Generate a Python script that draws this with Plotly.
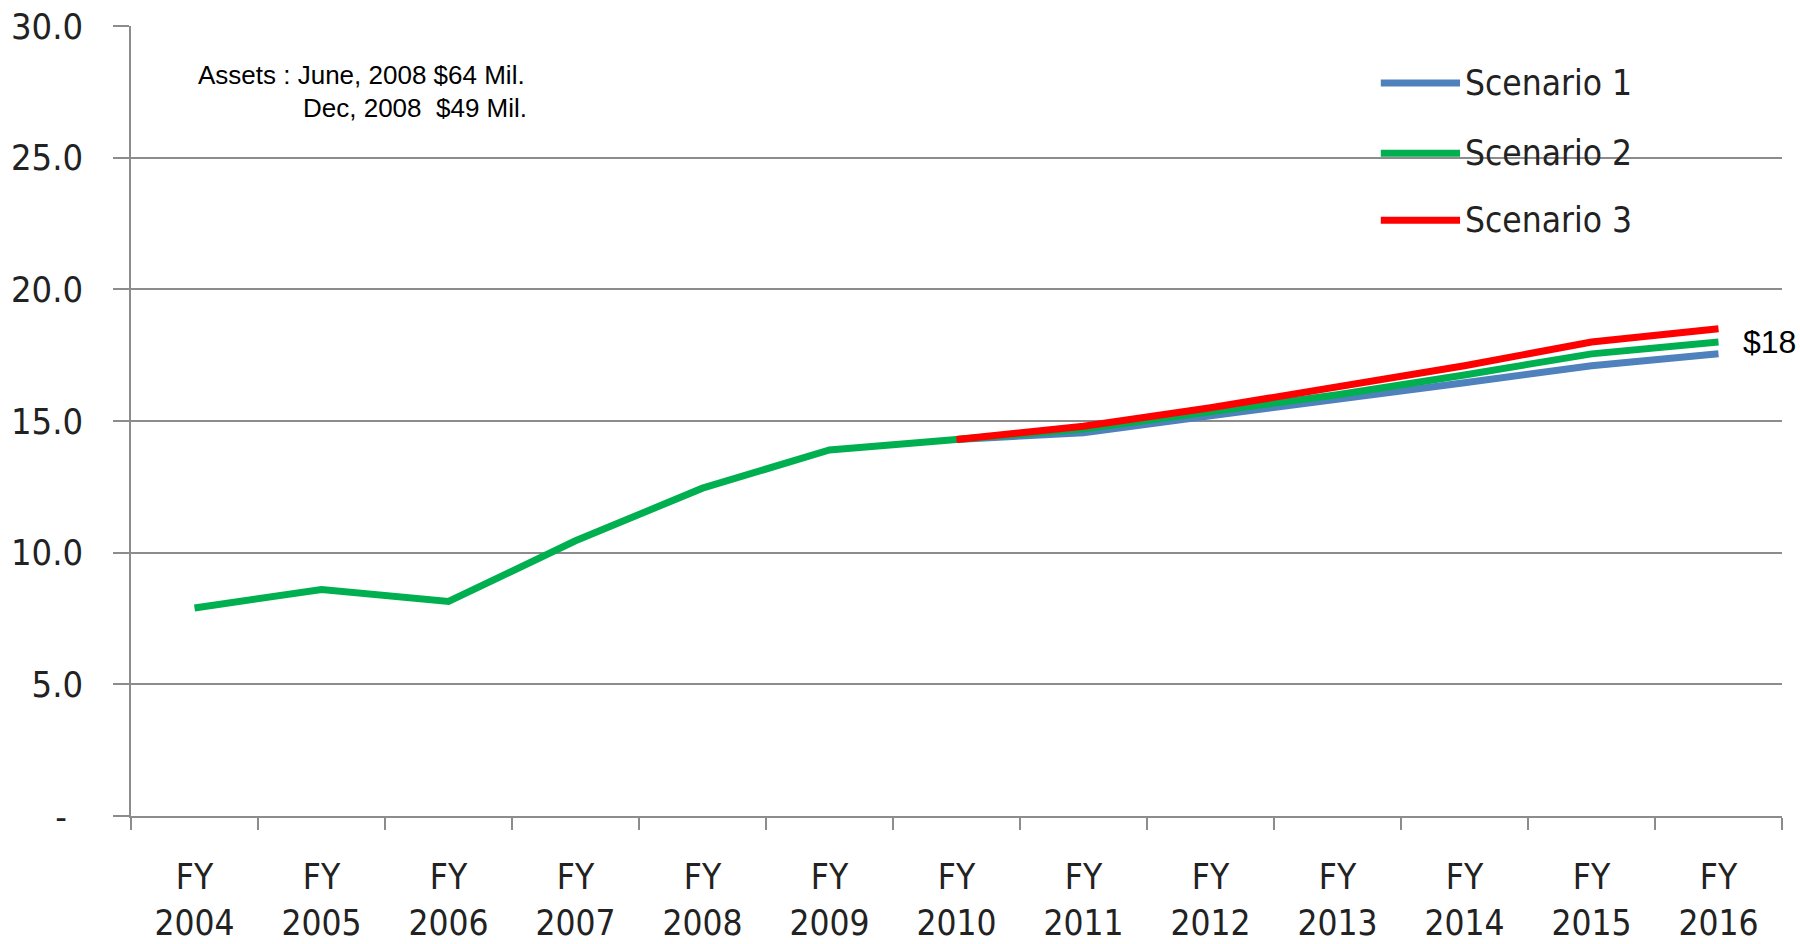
import plotly.graph_objects as go

# Fiscal years on the category axis
years = ["FY<br>2004", "FY<br>2005", "FY<br>2006", "FY<br>2007", "FY<br>2008",
         "FY<br>2009", "FY<br>2010", "FY<br>2011", "FY<br>2012", "FY<br>2013",
         "FY<br>2014", "FY<br>2015", "FY<br>2016"]

# Historical values (FY2004-FY2010), shared by all scenarios
history = [7.9, 8.6, 8.15, 10.45, 12.45, 13.9, 14.3]

# Projections FY2011-FY2016 per scenario
scenario_1 = [14.55, 15.2, 15.8, 16.45, 17.1, 17.55]
scenario_2 = [14.7, 15.35, 16.0, 16.75, 17.55, 18.0]
scenario_3 = [14.8, 15.5, 16.3, 17.1, 18.0, 18.5]

series_names = ["Scenario 1", "Scenario 2", "Scenario 3"]
series_colors = ["#4F81BD", "#00B050", "#FF0000"]

y_tickvals = [0, 5, 10, 15, 20, 25, 30]
y_ticktext = ["-\u2002", "5.0", "10.0", "15.0", "20.0", "25.0", "30.0"]

end_label = "$18"
note_lines = ["Assets : June, 2008 $64 Mil.", "Dec, 2008  $49 Mil."]

LABEL_FONT = "DejaVu Sans Condensed, Arial, sans-serif"
NOTE_FONT = "Liberation Sans, Arial, sans-serif"

fig = go.Figure()

# Scenario 1 and 3 start at FY2010; Scenario 2 carries the full history
traces = [
    (years[6:], [history[-1]] + scenario_1),
    (years, history + scenario_2),
    (years[6:], [history[-1]] + scenario_3),
]
for (xs, ys), name, color in zip(traces, series_names, series_colors):
    fig.add_trace(go.Scatter(
        x=xs, y=ys, mode="lines", name=name,
        line=dict(color=color, width=7),
        showlegend=False, hoverinfo="x+y+name",
    ))

# Hand-placed legend: long line samples with labels
legend_y = [0.928, 0.839, 0.754]
for name, color, ly in zip(series_names, series_colors, legend_y):
    fig.add_shape(type="line", xref="paper", yref="paper",
                  x0=0.757, x1=0.805, y0=ly, y1=ly,
                  line=dict(color=color, width=7))
    fig.add_annotation(xref="paper", yref="paper", x=0.807, y=ly,
                       text=name, showarrow=False, xanchor="left", yanchor="middle",
                       font=dict(family=LABEL_FONT, size=35, color="#222222"))

# Asset note in the upper left
fig.add_annotation(xref="paper", yref="paper", x=0.240, y=0.938, text=note_lines[0],
                   showarrow=False, xanchor="right", yanchor="middle",
                   font=dict(family=NOTE_FONT, size=26, color="#000000"))
fig.add_annotation(xref="paper", yref="paper", x=0.241, y=0.896, text=note_lines[1],
                   showarrow=False, xanchor="right", yanchor="middle",
                   font=dict(family=NOTE_FONT, size=26, color="#000000"))

# End-of-line value label
fig.add_annotation(x=years[-1], y=scenario_2[-1], text=end_label, showarrow=False,
                   xanchor="left", yanchor="middle", xshift=22,
                   font=dict(family=NOTE_FONT, size=32, color="#000000"))

fig.update_layout(
    width=1800, height=944,
    margin=dict(l=131, r=18, t=26, b=128),
    paper_bgcolor="#FFFFFF", plot_bgcolor="#FFFFFF",
    showlegend=False,
)
fig.update_xaxes(
    type="category", categoryorder="array", categoryarray=years,
    range=[-0.5, 12.5], automargin=False,
    showline=True, linecolor="#8C8C8C", linewidth=2,
    ticks="outside", tickson="boundaries", ticklen=12, tickcolor="#8C8C8C", tickwidth=1.5,
    showgrid=False,
    tickfont=dict(family=LABEL_FONT, size=35, color="#222222"),
    ticklabelstandoff=29,
)
fig.update_yaxes(
    range=[0, 30], tickvals=y_tickvals, ticktext=y_ticktext, automargin=False,
    showline=True, linecolor="#8C8C8C", linewidth=1.5,
    showgrid=True, gridcolor="#8C8C8C", gridwidth=1.5,
    ticks="outside", ticklen=16, tickcolor="#8C8C8C", tickwidth=1.5,
    tickfont=dict(family=LABEL_FONT, size=36, color="#222222"),
    ticklabelstandoff=23, zeroline=False,
)

fig.write_html("out.html")
